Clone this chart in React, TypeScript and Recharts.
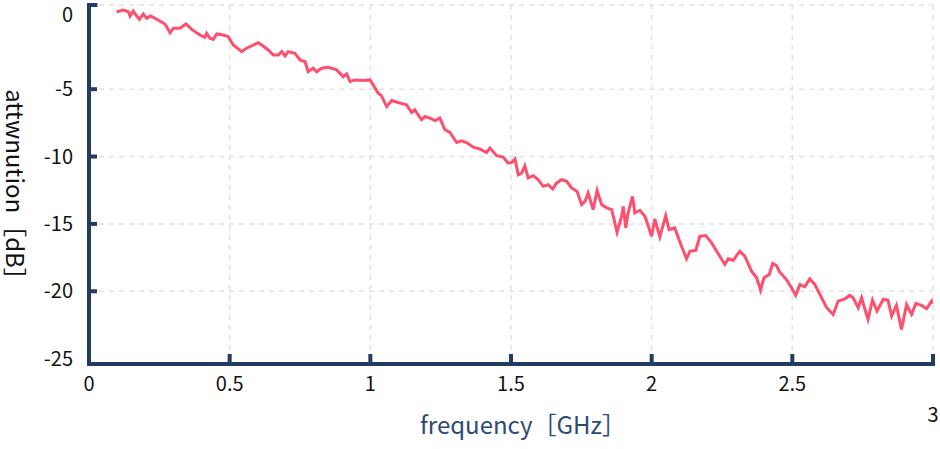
import React from 'react';
import { LineChart, Line, XAxis, YAxis, CartesianGrid, ReferenceLine } from 'recharts';

// frequency [GHz]
const FREQ = [
  0.098, 0.122, 0.140, 0.146, 0.157, 0.167, 0.179, 0.193, 0.205, 0.219,
  0.241, 0.270, 0.288, 0.300, 0.323, 0.345, 0.365, 0.394, 0.412, 0.418,
  0.430, 0.442, 0.454, 0.477, 0.495, 0.513, 0.543, 0.560, 0.584, 0.602,
  0.614, 0.637, 0.655, 0.673, 0.685, 0.697, 0.708, 0.732, 0.750, 0.768,
  0.779, 0.797, 0.809, 0.827, 0.850, 0.880, 0.904, 0.916, 0.928, 0.945,
  0.975, 0.999, 1.010, 1.028, 1.040, 1.058, 1.076, 1.099, 1.129, 1.147,
  1.158, 1.182, 1.194, 1.212, 1.230, 1.247, 1.265, 1.283, 1.307, 1.324,
  1.342, 1.366, 1.389, 1.413, 1.425, 1.449, 1.472, 1.490, 1.502, 1.514,
  1.526, 1.538, 1.549, 1.561, 1.579, 1.597, 1.614, 1.632, 1.648, 1.662,
  1.680, 1.698, 1.715, 1.735, 1.751, 1.763, 1.774, 1.792, 1.806, 1.822,
  1.840, 1.858, 1.877, 1.893, 1.899, 1.908, 1.916, 1.932, 1.940, 1.958,
  1.976, 2.000, 2.011, 2.029, 2.050, 2.062, 2.082, 2.106, 2.124, 2.136,
  2.157, 2.171, 2.192, 2.213, 2.242, 2.260, 2.272, 2.290, 2.313, 2.331,
  2.355, 2.373, 2.387, 2.399, 2.418, 2.430, 2.444, 2.453, 2.479, 2.497,
  2.512, 2.527, 2.544, 2.562, 2.580, 2.598, 2.622, 2.645, 2.663, 2.687,
  2.704, 2.716, 2.734, 2.746, 2.769, 2.785, 2.801, 2.823, 2.840, 2.853,
  2.870, 2.888, 2.906, 2.924, 2.939, 2.959, 2.977, 2.995, 3.0,
];

// attenuation [dB]
const ATTEN = [
  0.75, 0.87, 0.75, 0.43, 0.80, 0.50, 0.19, 0.58, 0.26, 0.43,
  0.19, -0.16, -0.81, -0.48, -0.48, -0.16, -0.56, -0.98, -1.15, -0.85,
  -1.22, -1.30, -0.90, -0.98, -1.10, -1.72, -2.21, -1.96, -1.72, -1.55,
  -1.72, -2.09, -2.46, -2.46, -2.21, -2.53, -2.21, -2.33, -2.83, -2.96,
  -3.70, -3.44, -3.70, -3.44, -3.37, -3.57, -4.07, -3.87, -4.44, -4.31,
  -4.36, -4.31, -4.68, -5.30, -5.50, -6.29, -5.84, -5.99, -6.16, -6.73,
  -6.53, -7.27, -7.03, -7.15, -7.33, -7.15, -8.01, -8.21, -8.96, -8.83,
  -8.96, -9.30, -9.44, -9.70, -9.37, -9.94, -10.04, -10.48, -10.44, -10.19,
  -11.35, -11.22, -10.68, -11.59, -11.42, -11.72, -12.21, -12.09, -12.41, -11.96,
  -11.72, -11.84, -12.33, -12.59, -13.57, -13.33, -12.70, -13.94, -12.51, -13.57,
  -13.81, -13.94, -15.62, -14.44, -13.70, -15.30, -14.19, -12.96, -14.19, -13.99,
  -14.44, -15.92, -14.63, -15.96, -14.39, -15.42, -15.30, -16.66, -17.59, -17.03,
  -16.96, -15.92, -15.87, -16.41, -17.40, -18.01, -17.59, -17.70, -17.03, -17.40,
  -18.51, -19.00, -19.92, -19.00, -18.76, -17.94, -18.09, -18.51, -19.13, -19.74,
  -20.31, -19.50, -19.67, -19.07, -19.50, -20.24, -21.22, -21.72, -20.73, -20.56,
  -20.31, -20.48, -21.22, -20.48, -22.09, -20.66, -21.47, -20.61, -20.66, -21.84,
  -21.05, -22.83, -20.98, -21.72, -20.90, -21.05, -21.30, -20.73, -20.90,
];

const X_TICKS = [0, 0.5, 1, 1.5, 2, 2.5, 3];
const Y_TICKS = [-25, -20, -15, -10, -5, 0];
const GRID_Y = [-20, -15, -10, -5];
const Y_MIN = -25.4;
const Y_MAX = 1.25;

const data = FREQ.map((f, i) => ({ f, db: ATTEN[i] }));

const NAVY = '#243b63';
const TITLE_NAVY = '#2d4a77';
const LINE_COLOR = '#fd4f6e';
const GRID = '#e2e2e2';
const FONT = '"Noto Sans CJK JP", "Noto Sans", sans-serif';

const YTick = (props: any) => {
  const { x, y, payload } = props;
  const v = payload.value;
  const showMark = v !== 0 && v !== -25;
  return (
    <g>
      {showMark && <line x1={x} x2={x + 8} y1={y} y2={y} stroke={NAVY} strokeWidth={4} />}
      <text x={x - 16} y={v === 0 ? y - 7 : y} dy="0.36em" textAnchor="end" fill="#111" fontSize={20} fontFamily={FONT}>
        {v}
      </text>
    </g>
  );
};

const XTick = (props: any) => {
  const { x, y, payload } = props;
  const v = payload.value;
  return (
    <g>
      {v !== 0 && <line x1={x} x2={x} y1={y} y2={y - 10} stroke={NAVY} strokeWidth={4} />}
      <text x={x} y={y + (v === 3 ? 58 : 27)} textAnchor="middle" fill="#111" fontSize={20} fontFamily={FONT}>
        {v}
      </text>
    </g>
  );
};

const XTitle = (props: any) => {
  const vb = props.viewBox || { x: 89, y: 364, width: 844, height: 85 };
  return (
    <text x={vb.x + vb.width / 2 + 12} y={vb.y + 70} textAnchor="middle" fill={TITLE_NAVY} fontSize={24} fontFamily={FONT}>
      frequency［GHz］
    </text>
  );
};

const YTitle = (props: any) => {
  const vb = props.viewBox || { x: 0, y: 5, width: 89, height: 359 };
  const cx = vb.x + 6;
  const cy = vb.y + vb.height / 2 + 6;
  return (
    <text x={cx} y={cy} transform={`rotate(90, ${cx}, ${cy})`} textAnchor="middle" fill="#111" fontSize={24} fontFamily={FONT}>
      attwnution［dB］
    </text>
  );
};

export default function App() {
  return (
    <div style={{ position: 'absolute', left: 0, top: 0, width: 940, height: 449, background: '#fff', fontFamily: FONT }}>
      <LineChart width={940} height={449} data={data} margin={{ top: 5, right: 7, bottom: 0, left: 0 }}>
        <CartesianGrid horizontal={false} stroke={GRID} strokeDasharray="5 5" strokeWidth={1.5} />
        {GRID_Y.map((v) => (
          <ReferenceLine key={v} y={v} stroke={GRID} strokeDasharray="5 5" strokeWidth={1.5} />
        ))}
        <ReferenceLine y={Y_MAX} stroke={GRID} strokeDasharray="5 5" strokeWidth={1.5} />
        <XAxis
          dataKey="f"
          type="number"
          domain={[0, 3]}
          ticks={X_TICKS}
          interval={0}
          allowDataOverflow
          height={85}
          tickSize={0}
          tickMargin={0}
          tickLine={false}
          axisLine={{ stroke: NAVY, strokeWidth: 4, strokeLinecap: 'square' }}
          tick={<XTick />}
          label={<XTitle />}
        />
        <YAxis
          type="number"
          domain={[Y_MIN, Y_MAX]}
          ticks={Y_TICKS}
          interval={0}
          allowDataOverflow
          width={89}
          tickSize={0}
          tickMargin={0}
          tickLine={false}
          axisLine={{ stroke: NAVY, strokeWidth: 4, strokeLinecap: 'square' }}
          tick={<YTick />}
          label={<YTitle />}
        />
        <ReferenceLine
          segment={[{ x: 0, y: Y_MAX }, { x: 0.03, y: Y_MAX }]}
          stroke={NAVY}
          strokeWidth={4}
        />
        <Line
          type="linear"
          dataKey="db"
          stroke={LINE_COLOR}
          strokeWidth={3}
          dot={false}
          activeDot={false}
          isAnimationActive={false}
        />
      </LineChart>
    </div>
  );
}
